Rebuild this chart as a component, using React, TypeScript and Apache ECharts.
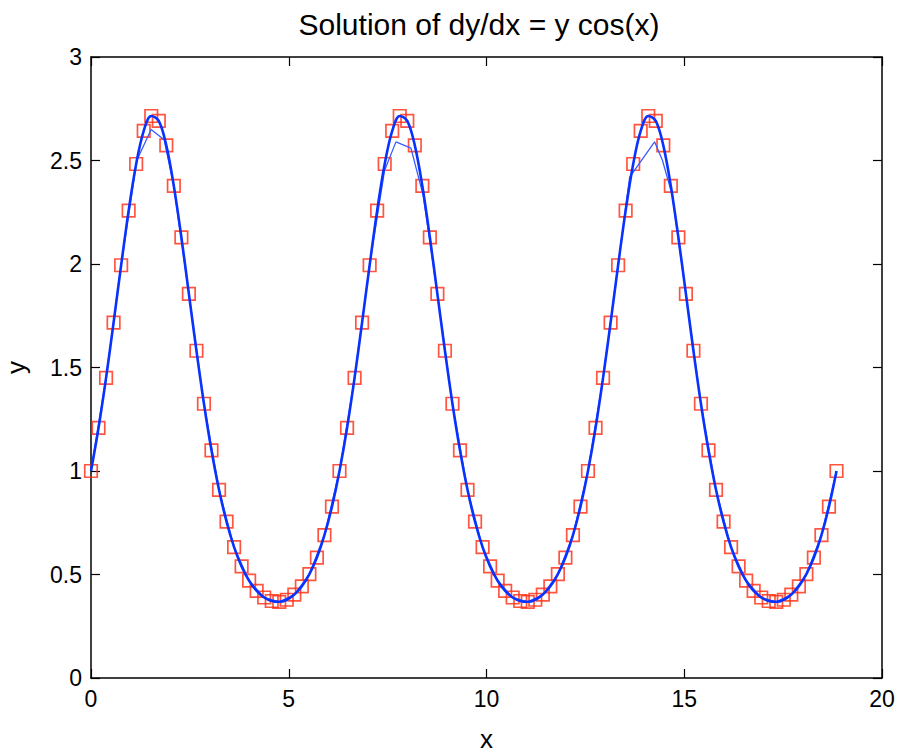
import React, { useEffect, useRef } from "react";
import * as echarts from "echarts";

// Sample points (x) and solution values (y) marked by red squares
const markerX = [
  0, 0.19, 0.381, 0.571, 0.762, 0.952, 1.142, 1.333, 1.523, 1.714,
  1.904, 2.094, 2.285, 2.475, 2.666, 2.856, 3.046, 3.237, 3.427, 3.618,
  3.808, 3.998, 4.189, 4.379, 4.57, 4.76, 4.95, 5.141, 5.331, 5.522,
  5.712, 5.902, 6.093, 6.283, 6.474, 6.664, 6.854, 7.045, 7.235, 7.426,
  7.616, 7.806, 7.997, 8.187, 8.378, 8.568, 8.758, 8.949, 9.139, 9.33,
  9.52, 9.71, 9.901, 10.091, 10.282, 10.472, 10.662, 10.853, 11.043, 11.234,
  11.424, 11.614, 11.805, 11.995, 12.186, 12.376, 12.566, 12.757, 12.947, 13.138,
  13.328, 13.518, 13.709, 13.899, 14.09, 14.28, 14.47, 14.661, 14.851, 15.042,
  15.232, 15.422, 15.613, 15.803, 15.994, 16.184, 16.374, 16.565, 16.755, 16.946,
  17.136, 17.326, 17.517, 17.707, 17.898, 18.088, 18.278, 18.469, 18.659, 18.85,
];
const markerY = [
  1.0, 1.208, 1.45, 1.717, 1.994, 2.258, 2.483, 2.643, 2.715, 2.691,
  2.573, 2.377, 2.129, 1.856, 1.581, 1.325, 1.1, 0.909, 0.755, 0.632,
  0.539, 0.47, 0.421, 0.389, 0.372, 0.368, 0.378, 0.403, 0.443, 0.502,
  0.582, 0.69, 0.828, 1.0, 1.208, 1.45, 1.717, 1.994, 2.258, 2.483,
  2.643, 2.715, 2.691, 2.573, 2.377, 2.129, 1.856, 1.581, 1.325, 1.1,
  0.909, 0.755, 0.632, 0.539, 0.47, 0.421, 0.389, 0.372, 0.368, 0.378,
  0.403, 0.443, 0.502, 0.582, 0.69, 0.828, 1.0, 1.208, 1.45, 1.717,
  1.994, 2.258, 2.483, 2.643, 2.715, 2.691, 2.573, 2.377, 2.129, 1.856,
  1.581, 1.325, 1.1, 0.909, 0.755, 0.632, 0.539, 0.47, 0.421, 0.389,
  0.372, 0.368, 0.378, 0.403, 0.443, 0.502, 0.582, 0.69, 0.828, 1.0,
];

// Coarse solver steps (thin line)
const coarseX = [
  0, 0.381, 0.762, 1.157, 1.52, 1.85, 2.094, 2.475, 2.856, 3.237,
  3.618, 3.998, 4.379, 4.76, 5.141, 5.522, 5.902, 6.283,
  6.664, 7.045, 7.42, 7.71, 8.09, 8.4, 8.758, 9.139, 9.52, 9.901,
  10.282, 10.662, 11.043, 11.424, 11.805, 12.186, 12.566,
  12.947, 13.328, 13.62, 14.25, 14.45, 14.7, 15.042, 15.422, 15.803,
  16.184, 16.565, 16.946, 17.326, 17.707, 18.088, 18.469, 18.85,
];
const coarseY = [
  1.0, 1.45, 1.994, 2.5, 2.65, 2.6, 2.377, 1.856, 1.325, 0.909,
  0.632, 0.47, 0.389, 0.368, 0.403, 0.502, 0.69, 1.0,
  1.45, 1.994, 2.45, 2.59, 2.56, 2.33, 1.856, 1.325, 0.909, 0.632,
  0.47, 0.389, 0.368, 0.403, 0.502, 0.69, 1.0,
  1.45, 1.994, 2.42, 2.59, 2.5, 2.33, 1.856, 1.325, 0.909,
  0.632, 0.47, 0.389, 0.368, 0.403, 0.502, 0.69, 1.0,
];

const xTicks = [0, 5, 10, 15, 20];
const yTicks = [0, 0.5, 1, 1.5, 2, 2.5, 3];

const FONT = "'Liberation Sans', Arial, Helvetica, sans-serif";

export default function App() {
  const ref = useRef<HTMLDivElement>(null);
  useEffect(() => {
    if (!ref.current) return;
    const chart = echarts.init(ref.current, undefined, { renderer: "svg" });
    const markers = markerX.map((x, i) => [x, markerY[i]]);
    const coarse = coarseX.map((x, i) => [x, coarseY[i]]);
    const axisCommon = {
      axisLine: { show: true, onZero: false, lineStyle: { color: "#000", width: 1.5 } },
      axisTick: { show: true, inside: true, length: 9, lineStyle: { color: "#000", width: 1.2 } },
      splitLine: { show: false },
    };
    chart.setOption({
      animation: false,
      backgroundColor: "#fff",
      title: {
        text: "Solution of dy/dx = y cos(x)",
        left: 474,
        top: 4,
        textAlign: "center",
        textStyle: { fontFamily: FONT, fontSize: 30, fontWeight: "normal", color: "#000" },
      },
      grid: { left: 91, right: 15, top: 57, bottom: 78, outerBoundsMode: "none", containLabel: false },
      xAxis: [
        {
          type: "value",
          min: xTicks[0],
          max: xTicks[xTicks.length - 1],
          interval: 5,
          position: "bottom",
          name: "x",
          nameLocation: "middle",
          nameGap: 48,
          nameTextStyle: { fontFamily: FONT, fontSize: 26, color: "#000" },
          axisLabel: { fontFamily: FONT, fontSize: 23, color: "#000", margin: 9 },
          ...axisCommon,
        },
        {
          type: "value",
          min: xTicks[0],
          max: xTicks[xTicks.length - 1],
          interval: 5,
          position: "top",
          axisLabel: { show: false },
          ...axisCommon,
        },
      ],
      yAxis: [
        {
          type: "value",
          min: yTicks[0],
          max: yTicks[yTicks.length - 1],
          interval: 0.5,
          position: "left",
          name: "y",
          nameLocation: "middle",
          nameGap: 62,
          nameRotate: 90,
          nameTextStyle: { fontFamily: FONT, fontSize: 26, color: "#000" },
          axisLabel: { fontFamily: FONT, fontSize: 23, color: "#000", margin: 9 },
          ...axisCommon,
        },
        {
          type: "value",
          min: yTicks[0],
          max: yTicks[yTicks.length - 1],
          interval: 0.5,
          position: "right",
          axisLabel: { show: false },
          ...axisCommon,
        },
      ],
      series: [
        {
          type: "scatter",
          data: markers,
          symbol: "rect",
          symbolSize: 12.5,
          itemStyle: { color: "rgba(0,0,0,0)", borderColor: "#ff2a10", borderWidth: 1.7 },
          z: 1,
        },
        {
          type: "line",
          data: coarse,
          showSymbol: false,
          symbol: "none",
          lineStyle: { color: "#3a5cff", width: 1.3 },
          z: 2,
        },
        {
          type: "line",
          data: markers,
          showSymbol: false,
          symbol: "none",
          smooth: 0.35,
          lineStyle: { color: "#0a32ff", width: 2.6 },
          z: 3,
        },
      ],
    });
    return () => chart.dispose();
  }, []);
  return (
    <div
      ref={ref}
      style={{ position: "fixed", left: 0, top: 0, width: 897, height: 756, background: "#fff" }}
    />
  );
}
